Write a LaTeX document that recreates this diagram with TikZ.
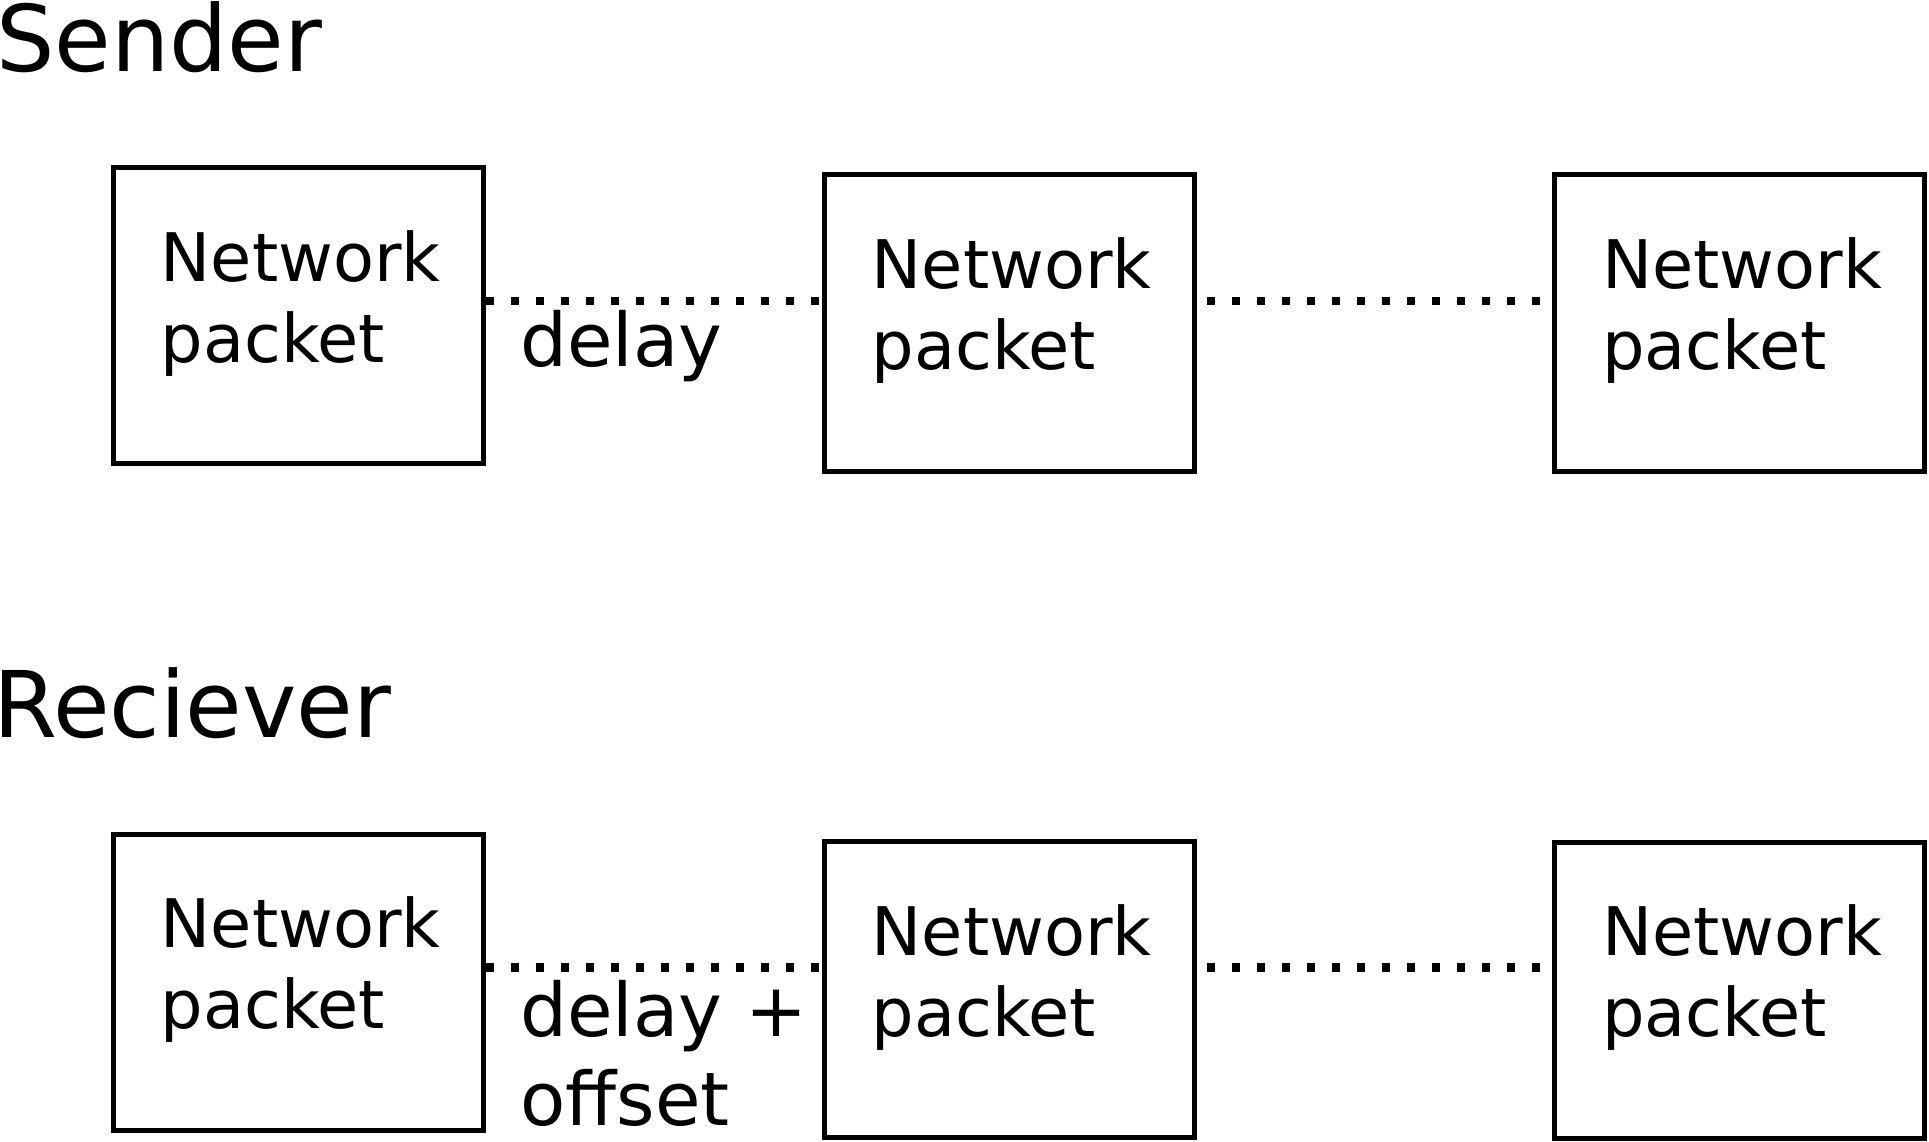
\documentclass[tikz,border=0pt]{standalone}
\usepackage{fontspec}
\setmainfont{DejaVu Sans}
\begin{document}
\begin{tikzpicture}[x=1pt,y=-1pt,
  pbox/.style={draw, line width=5pt, minimum width=370pt, minimum height=296pt, inner sep=0pt},
  ptext/.style={anchor=base west, inner sep=0pt, font=\fontsize{67}{81}\selectfont},
  lbl/.style={anchor=base west, inner sep=0pt, font=\fontsize{74}{89}\selectfont},
  ttl/.style={anchor=base west, inner sep=0pt, font=\fontsize{92}{110}\selectfont},
  dotline/.style={line width=8.3pt, dash pattern=on 8pt off 17pt}]
\useasboundingbox (0,0) rectangle (1929,1142);

\node[ttl] (sender) at (-4,72) {Sender};
\node[ttl] (receiver) at (-7,737) {Reciever};

% sender row
\node[pbox] (b1) at (298,315.5) {};
\node[pbox] (b2) at (1009,323) {};
\node[pbox] (b3) at (1739.5,323) {};
% receiver row
\node[pbox] (b4) at (298,982) {};
\node[pbox] (b5) at (1009,989.5) {};
\node[pbox] (b6) at (1739.5,990) {};

\foreach \b in {b1,b2,b3,b4,b5,b6}{
  \node[ptext] (\b t) at ([xshift=50pt,yshift=-116pt]\b.north west)
    {\begin{tabular}[t]{@{}l@{}}Network\\packet\end{tabular}};
}

\coordinate (r1) at (0,300.8);
\coordinate (r2) at (0,967.5);

\draw[dotline] (b1.east |- r1) -- ([xshift=-3pt]b2.west |- r1);
\draw[dotline] ([xshift=10.8pt]b2.east |- r1) -- ([xshift=-11.7pt]b3.west |- r1);
\draw[dotline] (b4.east |- r2) -- ([xshift=-3pt]b5.west |- r2);
\draw[dotline] ([xshift=10.8pt]b5.east |- r2) -- ([xshift=-11.7pt]b6.west |- r2);

\node[lbl] (d1) at (520,366) {delay};
\node[lbl] (d2) at (520,1036) {\begin{tabular}[t]{@{}l@{}}delay +\\offset\end{tabular}};
\end{tikzpicture}
\end{document}
